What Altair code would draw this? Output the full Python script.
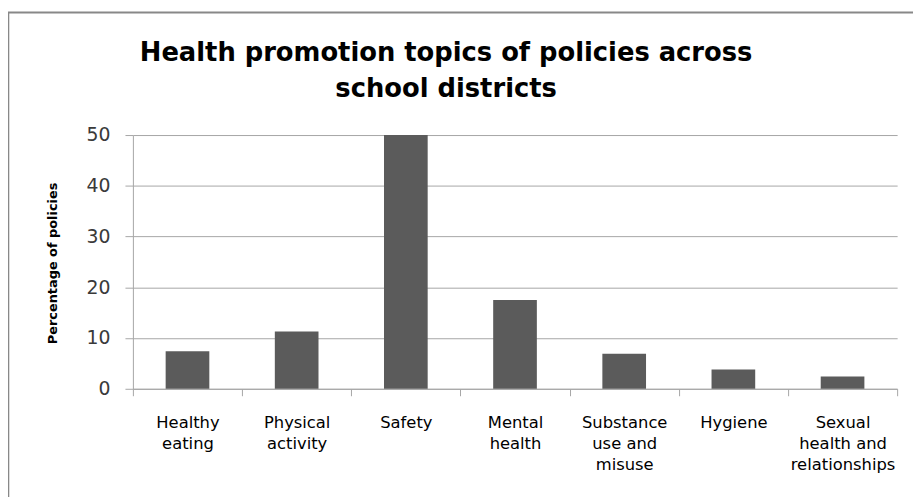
import altair as alt
import pandas as pd

categories = [
    "Healthy\neating",
    "Physical\nactivity",
    "Safety",
    "Mental\nhealth",
    "Substance\nuse and\nmisuse",
    "Hygiene",
    "Sexual\nhealth and\nrelationships",
]
percentages = [7.4, 11.3, 50, 17.5, 6.9, 3.8, 2.4]
y_ticks = [0, 10, 20, 30, 40, 50]
title_lines = ["Health promotion topics of policies across", "school districts"]
y_title = "Percentage of policies"

df = pd.DataFrame({"topic": categories, "pct": percentages})

GRID = "#a6a6a6"

bars = alt.Chart(df).mark_bar(
    color="#5b5b5b", width=alt.RelativeBandSize(0.4)
).encode(
    x=alt.X(
        "topic:N",
        sort=categories,
        scale=alt.Scale(paddingInner=0, paddingOuter=0),
        axis=alt.Axis(
            title=None,
            labelAngle=0,
            labelExpr="split(datum.label, '\\n')",
            labelFont="DejaVu Sans",
            labelFontSize=16.5,
            labelColor="black",
            labelLineHeight=21,
            labelBaseline="top",
            labelPadding=19,
            labelLimit=0,
            tickBand="extent",
            tickSize=7,
            tickColor=GRID,
            domainColor=GRID,
            grid=False,
        ),
    ),
    y=alt.Y(
        "pct:Q",
        scale=alt.Scale(domain=[0, 50], nice=False),
        axis=alt.Axis(
            values=y_ticks,
            title=y_title,
            titleFont="DejaVu Sans",
            titleFontSize=13,
            titleFontWeight="bold",
            titleColor="black",
            titleAngle=270,
            titleX=-77,
            titleY=129,
            titleAlign="center",
            titleBaseline="alphabetic",
            labelFont="DejaVu Sans",
            labelFontSize=19,
            labelColor="#3a3a3a",
            labelPadding=15,
            tickSize=8,
            tickColor=GRID,
            domainColor=GRID,
            gridColor=GRID,
            grid=True,
        ),
    ),
)

border = alt.Chart(alt.Data(values=[{}])).mark_rect(
    filled=False, stroke="#888888", strokeWidth=2
).encode(
    x=alt.value(-125.7), x2=alt.value(1000), y=alt.value(-123.7), y2=alt.value(1000)
)

chart = alt.layer(border, bars).properties(
    width=771,
    height=256,
    autosize=alt.AutoSizeParams(type="none"),
    padding={"left": 126, "top": 126, "right": 16, "bottom": 107},
    background="white",
    title=alt.TitleParams(
        text=title_lines,
        font="DejaVu Sans",
        fontSize=26,
        fontWeight="bold",
        color="black",
        lineHeight=36,
        anchor="middle",
        frame="group",
        dx=-69.5,
        dy=115,
        offset=24,
    ),
).configure_view(stroke=None)

chart.save("out.html", embed_options={"renderer": "svg", "actions": False})
